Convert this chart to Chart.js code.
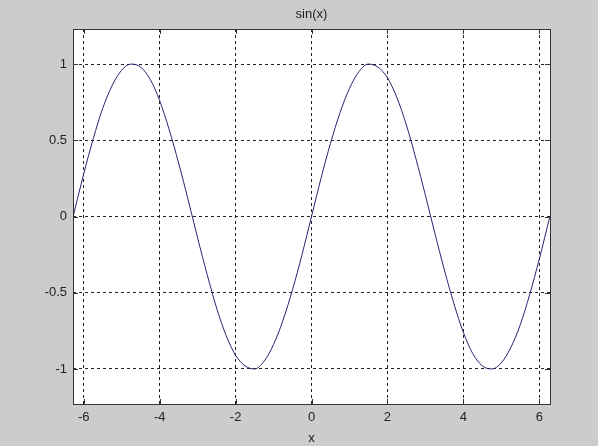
<!DOCTYPE html>
<html>
<head>
<meta charset="utf-8">
<script src="https://cdn.jsdelivr.net/npm/chart.js@4/dist/chart.umd.min.js"></script>
<style>
  html, body { margin: 0; padding: 0; background: #cccccc; }
  #wrap { width: 598px; height: 446px; }
</style>
</head>
<body>
<div id="wrap"><canvas id="c" width="598" height="446"></canvas></div>
<script>
// Values
const xValues = [-6.28, -6.0, -5.75, -5.5, -5.25, -5.0, -4.75, -4.5, -4.25, -4.0, -3.75, -3.5, -3.25,
  -3.0, -2.75, -2.5, -2.25, -2.0, -1.75, -1.5, -1.25, -1.0, -0.75, -0.5, -0.25, 0,
  0.25, 0.5, 0.75, 1.0, 1.25, 1.5, 1.75, 2.0, 2.25, 2.5, 2.75, 3.0,
  3.25, 3.5, 3.75, 4.0, 4.25, 4.5, 4.75, 5.0, 5.25, 5.5, 5.75, 6.0, 6.28];
const yValues = [0.00, 0.28, 0.51, 0.71, 0.86, 0.96, 1.00, 0.98, 0.90, 0.76, 0.57, 0.35, 0.11,
  -0.14, -0.38, -0.60, -0.78, -0.91, -0.98, -1.00, -0.95, -0.84, -0.68, -0.48, -0.25, 0.00,
  0.25, 0.48, 0.68, 0.84, 0.95, 1.00, 0.98, 0.91, 0.78, 0.60, 0.38, 0.14,
  -0.11, -0.35, -0.57, -0.76, -0.90, -0.98, -1.00, -0.96, -0.86, -0.71, -0.51, -0.28, 0.00];
const xTicks = [-6, -4, -2, 0, 2, 4, 6];
const yTicks = [-1, -0.5, 0, 0.5, 1];
const titleText = 'sin(x)';
const xLabel = 'x';

const points = xValues.map((x, i) => ({ x: x, y: yValues[i] }));
const FONT = 'Liberation Sans, Arial, sans-serif';

const boxPlugin = {
  id: 'box',
  beforeDraw(chart) {
    const ctx = chart.ctx;
    ctx.save();
    ctx.fillStyle = '#cccccc';
    ctx.fillRect(0, 0, chart.width, chart.height);
    const a = chart.chartArea;
    ctx.fillStyle = '#ffffff';
    ctx.fillRect(a.left, a.top, a.right - a.left, a.bottom - a.top);
    ctx.restore();
  },
  afterDraw(chart) {
    const ctx = chart.ctx;
    const a = chart.chartArea;
    const xs = chart.scales.x, ys = chart.scales.y;
    ctx.save();
    ctx.strokeStyle = '#333333';
    ctx.lineWidth = 1;
    ctx.beginPath();
    xTicks.forEach(v => {
      const px = Math.round(xs.getPixelForValue(v)) + 0.5;
      ctx.moveTo(px, a.bottom); ctx.lineTo(px, a.bottom - 5);
      ctx.moveTo(px, a.top); ctx.lineTo(px, a.top + 5);
    });
    yTicks.forEach(v => {
      const py = Math.round(ys.getPixelForValue(v)) + 0.5;
      ctx.moveTo(a.left, py); ctx.lineTo(a.left + 5, py);
      ctx.moveTo(a.right, py); ctx.lineTo(a.right - 5, py);
    });
    ctx.stroke();
    ctx.strokeRect(Math.round(a.left) + 0.5, Math.round(a.top) + 0.5,
      Math.round(a.right - a.left), Math.round(a.bottom - a.top));
    ctx.restore();
  }
};

new Chart(document.getElementById('c'), {
  type: 'line',
  data: {
    datasets: [{
      data: points,
      borderColor: '#262673',
      borderWidth: 1,
      pointRadius: 0,
      cubicInterpolationMode: 'monotone',
      fill: false
    }]
  },
  options: {
    responsive: false,
    animation: false,
    events: [],
    layout: { padding: { left: 0, right: 48, top: 0, bottom: 0 } },
    plugins: {
      legend: { display: false },
      tooltip: { enabled: false },
      title: {
        display: true,
        text: titleText,
        fullSize: false,
        color: '#222222',
        font: { family: FONT, size: 13, weight: 'normal', lineHeight: 1.2 },
        padding: { top: 7, bottom: 6.4 }
      }
    },
    scales: {
      x: {
        type: 'linear',
        min: -6.2832,
        max: 6.2832,
        afterBuildTicks(scale) { scale.ticks = xTicks.map(v => ({ value: v })); },
        afterFit(scale) { scale.height = 42; },
        grid: { color: '#222222', lineWidth: 1, drawTicks: false },
        border: { display: false, dash: [3, 3] },
        ticks: {
          color: '#222222',
          padding: 6,
          font: { family: FONT, size: 13 },
          callback: v => String(v)
        },
        title: {
          display: true,
          text: xLabel,
          color: '#222222',
          font: { family: FONT, size: 13 },
          padding: { top: 1, bottom: 0 }
        }
      },
      y: {
        type: 'linear',
        min: -1.23,
        max: 1.23,
        afterBuildTicks(scale) { scale.ticks = yTicks.map(v => ({ value: v })); },
        afterFit(scale) { scale.width = 73; },
        grid: { color: '#222222', lineWidth: 1, drawTicks: false },
        border: { display: false, dash: [3, 3] },
        ticks: {
          color: '#222222',
          padding: 6,
          font: { family: FONT, size: 13 },
          callback: v => String(v)
        }
      }
    }
  },
  plugins: [boxPlugin]
});
</script>
</body>
</html>
